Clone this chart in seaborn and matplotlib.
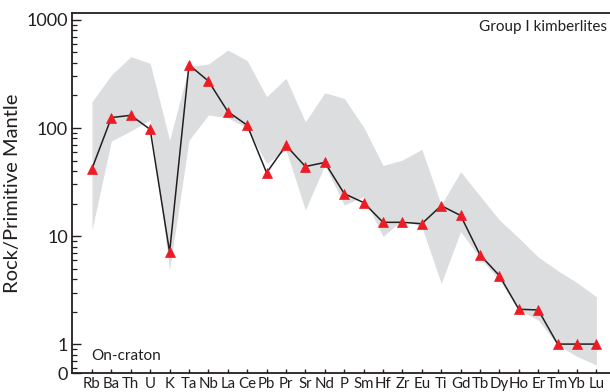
import numpy as np
import pandas as pd
import matplotlib
matplotlib.use("Agg")
import matplotlib.pyplot as plt
import seaborn as sns
from matplotlib.ticker import FixedLocator, LogLocator, NullFormatter

# ---- data ----
elements = ["Rb", "Ba", "Th", "U", "K", "Ta", "Nb", "La", "Ce", "Pb", "Pr", "Sr", "Nd", "P",
            "Sm", "Hf", "Zr", "Eu", "Ti", "Gd", "Tb", "Dy", "Ho", "Er", "Tm", "Yb", "Lu"]
sample = [42, 125, 131, 97, 7.1, 384, 272, 142, 106, 38.5, 69, 44, 48, 24.7,
          20.4, 13.4, 13.4, 13.0, 19.1, 15.5, 6.7, 4.3, 2.1, 2.07, 1.0, 1.0, 1.0]
band_upper = [175, 310, 457, 397, 77, 370, 391, 527, 420, 195, 288, 114, 212, 188,
              102, 45, 50.5, 63.5, 19.4, 39.4, 23.5, 14.1, 9.6, 6.4, 4.8, 3.7, 2.74]
band_lower = [11.4, 75.8, 94, 119, 4.84, 77, 132, 124, 100, 47, 62.5, 17.4, 45.4, 19.4,
              23.1, 9.9, 14.1, 12.2, 3.65, 11.0, 6.3, 3.9, 2.07, 1.67, 0.98, 0.77, 0.64]
major_x = ["K", "Pb", "Sm", "Gd", "Tm"]
ytick_vals = [1, 10, 100, 1000]
ytick_labels = ["1", "10", "100", "1000"]

df = pd.DataFrame({"pos": np.arange(len(elements)), "element": elements, "value": sample})

sns.set_theme(style="ticks")
plt.rcParams["font.family"] = ["Lato", "DejaVu Sans"]

fig = plt.figure(figsize=(6.10, 3.92), dpi=100)
ax = fig.add_axes([72 / 610, 1 - 373 / 392, (610 - 72) / 610, 360 / 392])

ax.fill_between(df["pos"], band_lower, band_upper, color="#DCDDDE", lw=0, zorder=1)
sns.lineplot(data=df, x="pos", y="value", ax=ax, color="#231F20", lw=1.1,
             marker="^", markersize=7.6, markerfacecolor="#ED1C24",
             markeredgecolor="#ED1C24", markeredgewidth=0.5, zorder=3)

ax.set_yscale("log")
ybot = 0.54
ax.set_ylim(ybot, 1160)
ax.set_xlim(-1.03, 26.7)

ax.yaxis.set_major_locator(FixedLocator([ybot] + ytick_vals))
ax.set_yticklabels(["0"] + ytick_labels, fontsize=13, color="#231F20")
ax.yaxis.set_minor_locator(LogLocator(base=10, subs=np.arange(2, 10)))
ax.yaxis.set_minor_formatter(NullFormatter())

ax.set_xticks(df["pos"])
ax.set_xticklabels(elements, fontsize=10.8, color="#231F20")
ax.xaxis.set_minor_locator(FixedLocator([elements.index(e) for e in major_x]))

ax.tick_params(axis="both", which="major", direction="in", color="#231F20", width=1.0)
ax.tick_params(axis="x", which="major", length=3.2, pad=3)
ax.tick_params(axis="x", which="minor", direction="in", length=6.5, width=1.0, color="#231F20")
ax.tick_params(axis="y", which="major", length=6.5, pad=3)
ax.tick_params(axis="y", which="minor", direction="in", length=3.3, width=0.9, color="#231F20")

for s in ["left", "bottom", "top"]:
    ax.spines[s].set_linewidth(1.3)
    ax.spines[s].set_color("#231F20")
ax.spines["right"].set_visible(False)

ax.set_xlabel("")
ax.set_ylabel("Rock/Primitive Mantle", fontsize=14.5, color="#231F20", labelpad=4)

ax.text(0.995, 0.962, "Group I kimberlites", transform=ax.transAxes, ha="right", va="center",
        fontsize=11, color="#231F20")
ax.text(0.035, 0.047, "On-craton", transform=ax.transAxes, ha="left", va="center",
        fontsize=11, color="#231F20")

fig.savefig("out.png", dpi=100)
